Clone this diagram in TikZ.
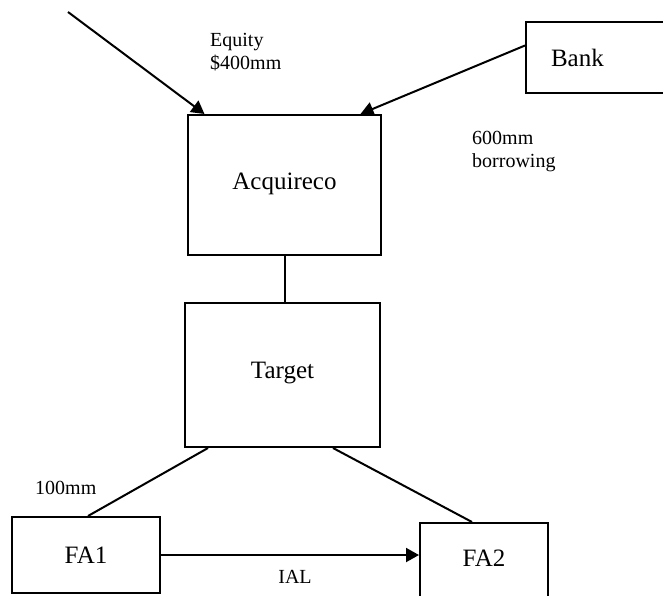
\documentclass[tikz,border=0pt]{standalone}
\usepackage{fontspec}
\setmainfont{Liberation Serif}
\usetikzlibrary{arrows.meta,calc}
\tikzset{
  box/.style={draw, line width=2pt, inner sep=0pt, font=\fontsize{25}{29}\selectfont},
  link/.style={line width=2pt},
  flow/.style={line width=2pt, -{Triangle[length=13pt,width=14pt]}},
  note/.style={inner sep=0pt, align=left, font=\fontsize{20}{23}\selectfont}
}
\begin{document}
\begin{tikzpicture}[x=1pt, y=-1pt]
  \useasboundingbox (0,0) rectangle (663,595);
  % entities
  \node[box, minimum width=193pt, minimum height=140pt] (acq) at (284.5,185) {\raisebox{8pt}{Acquireco}};
  \node[box, minimum width=195pt, minimum height=144pt] (tgt) at (282.5,375) {\raisebox{10pt}{Target}};
  \node[box, minimum width=150pt, minimum height=71pt, anchor=west, text width=100pt, align=left, inner xsep=25pt] (bank) at (525,57.5) {Bank};
  \node[box, minimum width=148pt, minimum height=76pt] (fa1) at (86,555) {FA1};
  \node[box, minimum width=128pt, minimum height=82pt] (fa2) at (484,564) {\raisebox{12pt}{FA2}};
  % funding flows
  \coordinate (eqsrc) at (68,12);
  \draw[flow] (eqsrc) -- ([xshift=-80pt]acq.north);
  \draw[flow] ([yshift=12pt]bank.west) -- ([xshift=76pt]acq.north);
  % ownership links
  \draw[link] (acq.south) -- (tgt.north -| acq.south);
  \draw[link] ([xshift=-74.5pt]tgt.south) -- ([xshift=2pt]fa1.north);
  \draw[link] ([xshift=50.5pt]tgt.south) -- ([xshift=-12pt]fa2.north);
  \draw[flow] (fa1.east) -- (fa1.east -| fa2.west);
  % labels
  \node[note, anchor=west] (eqlbl) at (210,52) {Equity\\\$400mm};
  \node[note, anchor=west] (bwlbl) at (472,152) {600mm\\borrowing};
  \node[note, anchor=west] (amt) at (35,488) {100mm};
  \node[note] (ial) at (295,577) {IAL};
\end{tikzpicture}
\end{document}
